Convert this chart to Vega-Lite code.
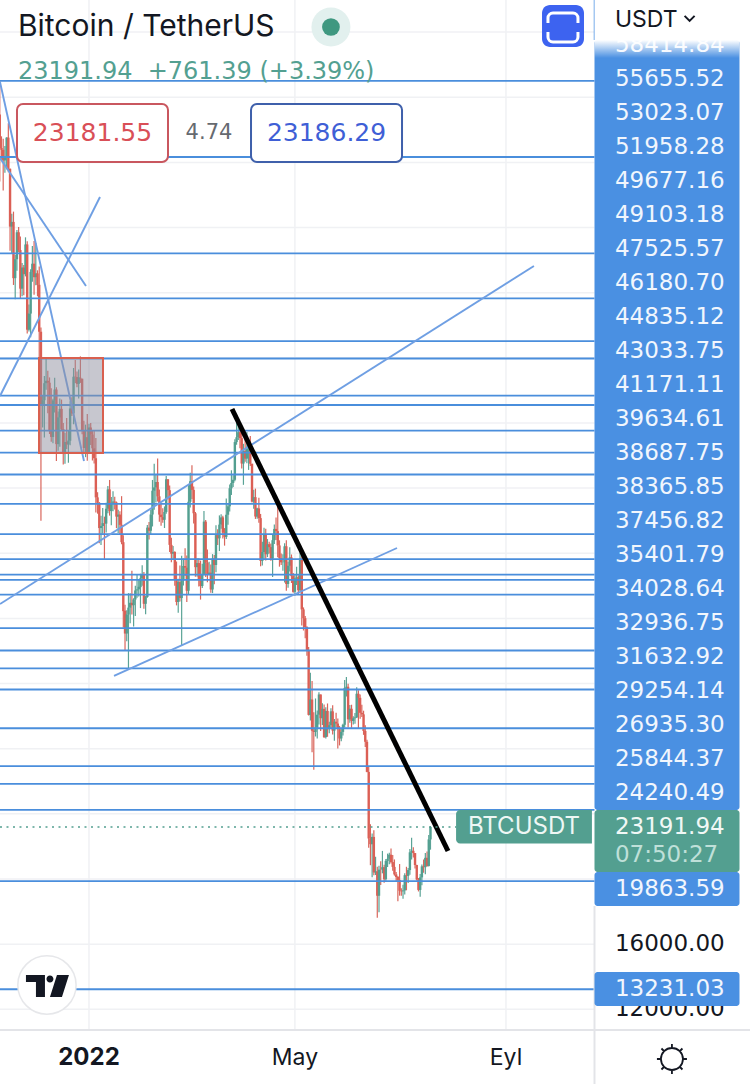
{
"$schema":"https://vega.github.io/schema/vega-lite/v6.json",
"width":750,"height":1084,"padding":0,"autosize":"none","background":"#ffffff",
"config":{"axis":{"disable":true},"legend":{"disable":true},"view":{"stroke":null},"text":{"font":"Inter"}},
"datasets":{
"candles":[
{"date":"2021-11-10","open":66947,"high":69000,"low":62822,"close":64882},{"date":"2021-11-11","open":64882,"high":65600,"low":64100,"close":64774},{"date":"2021-11-12","open":64774,"high":65450,"low":62278,"close":64122},{"date":"2021-11-13","open":64122,"high":65000,"low":63360,"close":64380},{"date":"2021-11-14","open":64380,"high":65550,"low":63576,"close":65519},{"date":"2021-11-15","open":65520,"high":66401,"low":63400,"close":63606},{"date":"2021-11-16","open":63606,"high":63620,"low":58574,"close":60058},{"date":"2021-11-17","open":60058,"high":60840,"low":58373,"close":60344},{"date":"2021-11-18","open":60344,"high":60976,"low":56474,"close":56891},{"date":"2021-11-19","open":56891,"high":58320,"low":55600,"close":58052},{"date":"2021-11-20","open":58052,"high":59845,"low":57353,"close":59707},{"date":"2021-11-21","open":59707,"high":60029,"low":58486,"close":58622},{"date":"2021-11-22","open":58617,"high":59444,"low":55610,"close":56247},{"date":"2021-11-23","open":56247,"high":57827,"low":55778,"close":57541},{"date":"2021-11-24","open":57541,"high":57700,"low":55837,"close":57138},{"date":"2021-11-25","open":57138,"high":59398,"low":57000,"close":58960},{"date":"2021-11-26","open":58960,"high":59150,"low":53500,"close":53726},{"date":"2021-11-27","open":53723,"high":55280,"low":53610,"close":54721},{"date":"2021-11-28","open":54716,"high":57445,"low":53256,"close":57274},{"date":"2021-11-29","open":57274,"high":58865,"low":56666,"close":57776},{"date":"2021-11-30","open":57777,"high":59176,"low":55875,"close":56950},
{"date":"2021-12-01","open":56951,"high":59053,"low":56458,"close":57184},{"date":"2021-12-02","open":57185,"high":57374,"low":55777,"close":56480},{"date":"2021-12-03","open":56485,"high":57600,"low":51680,"close":53601},{"date":"2021-12-04","open":53602,"high":53859,"low":42000,"close":49152},{"date":"2021-12-05","open":49153,"high":49700,"low":47727,"close":49397},{"date":"2021-12-06","open":49397,"high":50891,"low":47100,"close":50441},{"date":"2021-12-07","open":50441,"high":51936,"low":50039,"close":50589},{"date":"2021-12-08","open":50589,"high":51200,"low":48600,"close":50471},{"date":"2021-12-09","open":50471,"high":50797,"low":47320,"close":47545},{"date":"2021-12-10","open":47535,"high":50125,"low":46852,"close":47140},{"date":"2021-12-11","open":47140,"high":49485,"low":46751,"close":49389},{"date":"2021-12-12","open":49389,"high":50777,"low":48638,"close":50053},{"date":"2021-12-13","open":50053,"high":50189,"low":45672,"close":46702},{"date":"2021-12-14","open":46702,"high":48700,"low":46290,"close":48343},{"date":"2021-12-15","open":48336,"high":49500,"low":46547,"close":48864},{"date":"2021-12-16","open":48864,"high":49436,"low":47511,"close":47632},{"date":"2021-12-17","open":47632,"high":48004,"low":45456,"close":46131},{"date":"2021-12-18","open":46133,"high":47392,"low":45500,"close":46834},{"date":"2021-12-19","open":46834,"high":48300,"low":46406,"close":46681},{"date":"2021-12-20","open":46682,"high":47537,"low":45558,"close":46914},{"date":"2021-12-21","open":46908,"high":49328,"low":46630,"close":48889},{"date":"2021-12-22","open":48887,"high":49576,"low":48421,"close":48588},{"date":"2021-12-23","open":48588,"high":51375,"low":47920,"close":50838},{"date":"2021-12-24","open":50839,"high":51864,"low":50456,"close":50821},{"date":"2021-12-25","open":50820,"high":51156,"low":50200,"close":50400},{"date":"2021-12-26","open":50400,"high":51280,"low":49500,"close":50801},{"date":"2021-12-27","open":50775,"high":52088,"low":50459,"close":50717},{"date":"2021-12-28","open":50718,"high":50718,"low":47313,"close":47543},{"date":"2021-12-29","open":47543,"high":48139,"low":46096,"close":46464},{"date":"2021-12-30","open":46464,"high":47900,"low":45900,"close":47120},{"date":"2021-12-31","open":47120,"high":48548,"low":45678,"close":46216},
{"date":"2022-01-01","open":46217,"high":47954,"low":46208,"close":47722},{"date":"2022-01-02","open":47722,"high":47990,"low":46654,"close":47287},{"date":"2022-01-03","open":47287,"high":47570,"low":45696,"close":46446},{"date":"2022-01-04","open":46446,"high":47505,"low":45516,"close":45833},{"date":"2022-01-05","open":45833,"high":47070,"low":42500,"close":43431},{"date":"2022-01-06","open":43431,"high":43748,"low":42430,"close":43097},{"date":"2022-01-07","open":43097,"high":43145,"low":40610,"close":41547},{"date":"2022-01-08","open":41547,"high":42300,"low":40501,"close":41672},{"date":"2022-01-09","open":41672,"high":42786,"low":41200,"close":41846},{"date":"2022-01-10","open":41846,"high":42248,"low":39650,"close":41822},{"date":"2022-01-11","open":41820,"high":43100,"low":41268,"close":42735},{"date":"2022-01-12","open":42736,"high":44135,"low":42450,"close":43920},{"date":"2022-01-13","open":43920,"high":44500,"low":42311,"close":42591},{"date":"2022-01-14","open":42591,"high":43448,"low":41725,"close":43099},{"date":"2022-01-15","open":43099,"high":43800,"low":42577,"close":43177},{"date":"2022-01-16","open":43172,"high":43475,"low":42691,"close":43113},{"date":"2022-01-17","open":43118,"high":43176,"low":41540,"close":42250},{"date":"2022-01-18","open":42250,"high":42665,"low":41250,"close":42375},{"date":"2022-01-19","open":42375,"high":42577,"low":41138,"close":41744},{"date":"2022-01-20","open":41744,"high":43505,"low":40553,"close":40680},{"date":"2022-01-21","open":40680,"high":41100,"low":35440,"close":36445},{"date":"2022-01-22","open":36471,"high":36835,"low":34008,"close":35071},{"date":"2022-01-23","open":35071,"high":36499,"low":34601,"close":36244},{"date":"2022-01-24","open":36244,"high":37550,"low":32917,"close":36660},{"date":"2022-01-25","open":36660,"high":37545,"low":35701,"close":36958},{"date":"2022-01-26","open":36958,"high":38919,"low":36234,"close":36809},{"date":"2022-01-27","open":36810,"high":37234,"low":35507,"close":37160},{"date":"2022-01-28","open":37160,"high":38000,"low":36155,"close":37716},{"date":"2022-01-29","open":37716,"high":38720,"low":37268,"close":37783},{"date":"2022-01-30","open":37783,"high":38360,"low":37351,"close":37941},{"date":"2022-01-31","open":37920,"high":38744,"low":36632,"close":38466},
{"date":"2022-02-01","open":38466,"high":39265,"low":38000,"close":38690},{"date":"2022-02-02","open":38690,"high":38855,"low":36586,"close":36896},{"date":"2022-02-03","open":36896,"high":37387,"low":36250,"close":37311},{"date":"2022-02-04","open":37311,"high":41732,"low":37268,"close":41574},{"date":"2022-02-05","open":41571,"high":41913,"low":40843,"close":41382},{"date":"2022-02-06","open":41382,"high":42656,"low":41116,"close":42380},{"date":"2022-02-07","open":42380,"high":44500,"low":41645,"close":43839},{"date":"2022-02-08","open":43839,"high":45492,"low":42666,"close":44042},{"date":"2022-02-09","open":44043,"high":44799,"low":43117,"close":44372},{"date":"2022-02-10","open":44373,"high":45821,"low":43174,"close":43495},{"date":"2022-02-11","open":43495,"high":43920,"low":41938,"close":42373},{"date":"2022-02-12","open":42373,"high":43079,"low":41688,"close":42217},{"date":"2022-02-13","open":42217,"high":42760,"low":41870,"close":42053},{"date":"2022-02-14","open":42054,"high":42876,"low":41550,"close":42535},{"date":"2022-02-15","open":42535,"high":44751,"low":42427,"close":44544},{"date":"2022-02-16","open":44544,"high":44549,"low":43307,"close":43873},{"date":"2022-02-17","open":43873,"high":44164,"low":40073,"close":40515},{"date":"2022-02-18","open":40515,"high":40959,"low":39450,"close":39974},{"date":"2022-02-19","open":39974,"high":40444,"low":39639,"close":40079},{"date":"2022-02-20","open":40079,"high":40125,"low":38000,"close":38386},{"date":"2022-02-21","open":38386,"high":39494,"low":36800,"close":37008},{"date":"2022-02-22","open":37008,"high":38429,"low":36350,"close":38230},{"date":"2022-02-23","open":38230,"high":39249,"low":37036,"close":37250},{"date":"2022-02-24","open":37250,"high":39843,"low":34322,"close":38327},{"date":"2022-02-25","open":38328,"high":39683,"low":38014,"close":39219},{"date":"2022-02-26","open":39219,"high":40300,"low":38600,"close":39116},{"date":"2022-02-27","open":39116,"high":39855,"low":37000,"close":37699},{"date":"2022-02-28","open":37699,"high":44225,"low":37450,"close":43160},
{"date":"2022-03-01","open":43160,"high":44949,"low":42809,"close":44421},{"date":"2022-03-02","open":44421,"high":45400,"low":43334,"close":43892},{"date":"2022-03-03","open":43892,"high":44101,"low":41832,"close":42454},{"date":"2022-03-04","open":42454,"high":42527,"low":38550,"close":39148},{"date":"2022-03-05","open":39148,"high":39700,"low":38560,"close":39398},{"date":"2022-03-06","open":39398,"high":39693,"low":37957,"close":38420},{"date":"2022-03-07","open":38420,"high":39547,"low":37155,"close":37988},{"date":"2022-03-08","open":37988,"high":39362,"low":37867,"close":38730},{"date":"2022-03-09","open":38730,"high":42594,"low":38656,"close":41941},{"date":"2022-03-10","open":41941,"high":42039,"low":38539,"close":39422},{"date":"2022-03-11","open":39422,"high":40236,"low":38223,"close":38729},{"date":"2022-03-12","open":38729,"high":39486,"low":38660,"close":38807},{"date":"2022-03-13","open":38807,"high":39310,"low":37578,"close":37777},{"date":"2022-03-14","open":37777,"high":39947,"low":37555,"close":39671},{"date":"2022-03-15","open":39671,"high":39887,"low":38098,"close":39280},{"date":"2022-03-16","open":39280,"high":41718,"low":38828,"close":41114},{"date":"2022-03-17","open":41114,"high":41478,"low":40500,"close":40917},{"date":"2022-03-18","open":40917,"high":42325,"low":40135,"close":41757},{"date":"2022-03-19","open":41757,"high":42400,"low":41499,"close":42201},{"date":"2022-03-20","open":42201,"high":42296,"low":40911,"close":41262},{"date":"2022-03-21","open":41262,"high":41544,"low":40467,"close":41002},{"date":"2022-03-22","open":41002,"high":43361,"low":40875,"close":42364},{"date":"2022-03-23","open":42364,"high":43025,"low":41751,"close":42882},{"date":"2022-03-24","open":42882,"high":44220,"low":42560,"close":43991},{"date":"2022-03-25","open":43991,"high":45094,"low":43579,"close":44313},{"date":"2022-03-26","open":44313,"high":44792,"low":44071,"close":44511},{"date":"2022-03-27","open":44511,"high":46999,"low":44421,"close":46827},{"date":"2022-03-28","open":46827,"high":48189,"low":46663,"close":47122},{"date":"2022-03-29","open":47122,"high":48096,"low":46950,"close":47434},{"date":"2022-03-30","open":47434,"high":47700,"low":46445,"close":47067},{"date":"2022-03-31","open":47067,"high":47600,"low":45200,"close":45511},
{"date":"2022-04-01","open":45510,"high":46720,"low":44200,"close":46283},{"date":"2022-04-02","open":46283,"high":47213,"low":45620,"close":45811},{"date":"2022-04-03","open":45811,"high":47444,"low":45530,"close":46407},{"date":"2022-04-04","open":46407,"high":46890,"low":45118,"close":46580},{"date":"2022-04-05","open":46581,"high":47200,"low":45353,"close":45497},{"date":"2022-04-06","open":45497,"high":45497,"low":43121,"close":43170},{"date":"2022-04-07","open":43170,"high":43900,"low":42727,"close":43444},{"date":"2022-04-08","open":43444,"high":43970,"low":42107,"close":42252},{"date":"2022-04-09","open":42252,"high":42800,"low":42125,"close":42753},{"date":"2022-04-10","open":42753,"high":43410,"low":41868,"close":42158},{"date":"2022-04-11","open":42158,"high":42414,"low":39200,"close":39530},{"date":"2022-04-12","open":39530,"high":40699,"low":39254,"close":40074},{"date":"2022-04-13","open":40074,"high":41561,"low":39588,"close":41147},{"date":"2022-04-14","open":41147,"high":41500,"low":39551,"close":39942},{"date":"2022-04-15","open":39942,"high":40870,"low":39766,"close":40552},{"date":"2022-04-16","open":40552,"high":40709,"low":39991,"close":40378},{"date":"2022-04-17","open":40378,"high":40595,"low":39546,"close":39678},{"date":"2022-04-18","open":39678,"high":41116,"low":38536,"close":40801},{"date":"2022-04-19","open":40801,"high":41760,"low":40571,"close":41493},{"date":"2022-04-20","open":41494,"high":42199,"low":40820,"close":41358},{"date":"2022-04-21","open":41358,"high":42976,"low":39751,"close":40480},{"date":"2022-04-22","open":40480,"high":40795,"low":39177,"close":39709},{"date":"2022-04-23","open":39709,"high":39980,"low":39285,"close":39441},{"date":"2022-04-24","open":39441,"high":39940,"low":38929,"close":39450},{"date":"2022-04-25","open":39450,"high":40616,"low":38200,"close":40426},{"date":"2022-04-26","open":40427,"high":40797,"low":37702,"close":38112},{"date":"2022-04-27","open":38112,"high":39474,"low":37881,"close":39235},{"date":"2022-04-28","open":39235,"high":40372,"low":38881,"close":39742},{"date":"2022-04-29","open":39742,"high":39925,"low":38175,"close":38596},{"date":"2022-04-30","open":38596,"high":38795,"low":37578,"close":37630},
{"date":"2022-05-01","open":37630,"high":38675,"low":37386,"close":38468},{"date":"2022-05-02","open":38469,"high":39167,"low":38052,"close":38525},{"date":"2022-05-03","open":38525,"high":38651,"low":37500,"close":37728},{"date":"2022-05-04","open":37728,"high":40023,"low":37670,"close":39690},{"date":"2022-05-05","open":39690,"high":39845,"low":35571,"close":36552},{"date":"2022-05-06","open":36552,"high":36675,"low":35258,"close":36014},{"date":"2022-05-07","open":36013,"high":36146,"low":34785,"close":35472},{"date":"2022-05-08","open":35472,"high":35514,"low":33713,"close":34039},{"date":"2022-05-09","open":34038,"high":34243,"low":30033,"close":30076},{"date":"2022-05-10","open":30074,"high":32658,"low":29730,"close":31017},{"date":"2022-05-11","open":31017,"high":32162,"low":27785,"close":29103},{"date":"2022-05-12","open":29103,"high":30243,"low":26700,"close":29029},{"date":"2022-05-13","open":29029,"high":31083,"low":28751,"close":29287},{"date":"2022-05-14","open":29287,"high":30343,"low":28630,"close":30086},{"date":"2022-05-15","open":30086,"high":31460,"low":29480,"close":31328},{"date":"2022-05-16","open":31328,"high":31328,"low":29087,"close":29874},{"date":"2022-05-17","open":29874,"high":30788,"low":29450,"close":30444},{"date":"2022-05-18","open":30444,"high":30709,"low":28654,"close":28715},{"date":"2022-05-19","open":28715,"high":30545,"low":28630,"close":30319},{"date":"2022-05-20","open":30319,"high":30777,"low":28730,"close":29201},{"date":"2022-05-21","open":29201,"high":29656,"low":28947,"close":29445},{"date":"2022-05-22","open":29445,"high":30487,"low":29255,"close":30293},{"date":"2022-05-23","open":30293,"high":30670,"low":28866,"close":29109},{"date":"2022-05-24","open":29109,"high":29825,"low":28492,"close":29655},{"date":"2022-05-25","open":29655,"high":30200,"low":29311,"close":29542},{"date":"2022-05-26","open":29542,"high":29856,"low":28019,"close":29201},{"date":"2022-05-27","open":29201,"high":29400,"low":28200,"close":28629},{"date":"2022-05-28","open":28629,"high":29250,"low":28450,"close":29031},{"date":"2022-05-29","open":29031,"high":29530,"low":28810,"close":29468},{"date":"2022-05-30","open":29468,"high":32222,"low":29299,"close":31734},{"date":"2022-05-31","open":31734,"high":32399,"low":31200,"close":31801},
{"date":"2022-06-01","open":31801,"high":31982,"low":29300,"close":29805},{"date":"2022-06-02","open":29805,"high":30689,"low":29594,"close":30452},{"date":"2022-06-03","open":30452,"high":30699,"low":29282,"close":29700},{"date":"2022-06-04","open":29700,"high":29988,"low":29485,"close":29864},{"date":"2022-06-05","open":29864,"high":30189,"low":29531,"close":29920},{"date":"2022-06-06","open":29920,"high":31765,"low":29890,"close":31373},{"date":"2022-06-07","open":31373,"high":31589,"low":29218,"close":31125},{"date":"2022-06-08","open":31125,"high":31327,"low":29843,"close":30204},{"date":"2022-06-09","open":30204,"high":30700,"low":29944,"close":30109},{"date":"2022-06-10","open":30109,"high":30333,"low":28850,"close":29091},{"date":"2022-06-11","open":29091,"high":29440,"low":28099,"close":28424},{"date":"2022-06-12","open":28424,"high":28544,"low":26560,"close":26574},{"date":"2022-06-13","open":26574,"high":26895,"low":21925,"close":22487},{"date":"2022-06-14","open":22485,"high":23362,"low":20846,"close":22136},{"date":"2022-06-15","open":22136,"high":22800,"low":20111,"close":22583},{"date":"2022-06-16","open":22583,"high":22995,"low":20232,"close":20401},{"date":"2022-06-17","open":20400,"high":21365,"low":20246,"close":20468},{"date":"2022-06-18","open":20468,"high":20750,"low":17622,"close":18970},{"date":"2022-06-19","open":18970,"high":20815,"low":17960,"close":20574},{"date":"2022-06-20","open":20574,"high":21090,"low":19637,"close":20573},{"date":"2022-06-21","open":20573,"high":21723,"low":20348,"close":20723},{"date":"2022-06-22","open":20723,"high":20871,"low":19770,"close":19987},{"date":"2022-06-23","open":19987,"high":21233,"low":19890,"close":21110},{"date":"2022-06-24","open":21110,"high":21558,"low":20736,"close":21237},{"date":"2022-06-25","open":21237,"high":21614,"low":20906,"close":21491},{"date":"2022-06-26","open":21491,"high":21868,"low":20950,"close":21038},{"date":"2022-06-27","open":21038,"high":21478,"low":20510,"close":20742},{"date":"2022-06-28","open":20742,"high":21200,"low":20204,"close":20281},{"date":"2022-06-29","open":20281,"high":20432,"low":19847,"close":20123},{"date":"2022-06-30","open":20123,"high":20179,"low":18626,"close":19942},
{"date":"2022-07-01","open":19942,"high":20918,"low":18975,"close":19279},{"date":"2022-07-02","open":19279,"high":19437,"low":18975,"close":19243},{"date":"2022-07-03","open":19243,"high":19653,"low":18781,"close":19297},{"date":"2022-07-04","open":19297,"high":20354,"low":19055,"close":20231},{"date":"2022-07-05","open":20231,"high":20750,"low":19304,"close":20190},{"date":"2022-07-06","open":20190,"high":20675,"low":19761,"close":20548},{"date":"2022-07-07","open":20548,"high":21838,"low":20255,"close":21637},{"date":"2022-07-08","open":21637,"high":22527,"low":21189,"close":21731},{"date":"2022-07-09","open":21731,"high":21955,"low":21319,"close":21592},{"date":"2022-07-10","open":21592,"high":21597,"low":20650,"close":20860},{"date":"2022-07-11","open":20860,"high":20868,"low":19900,"close":19970},{"date":"2022-07-12","open":19970,"high":20059,"low":19235,"close":19329},{"date":"2022-07-13","open":19329,"high":20310,"low":18910,"close":20097},{"date":"2022-07-14","open":20097,"high":20883,"low":19616,"close":20775},{"date":"2022-07-15","open":20775,"high":21200,"low":20382,"close":20724},{"date":"2022-07-16","open":20724,"high":21600,"low":20296,"close":21300},{"date":"2022-07-17","open":21300,"high":21689,"low":20755,"close":20800},{"date":"2022-07-18","open":20800,"high":22700,"low":20760,"close":22430},{"date":"2022-07-19","open":22430,"high":23250,"low":21800,"close":23192}
],
"levels":[{"price":69000},{"price":64330},{"price":58414.84},{"price":55655.52},{"price":53023.07},{"price":51958.28},{"price":49677.16},{"price":49103.18},{"price":47525.57},{"price":46180.70},{"price":44835.12},{"price":43033.75},{"price":41171.11},{"price":39634.61},{"price":38687.75},{"price":38365.85},{"price":37456.82},{"price":35401.79},{"price":34028.64},{"price":32936.75},{"price":31632.92},{"price":29254.14},{"price":26935.30},{"price":25844.37},{"price":24240.49},{"price":19863.59},{"price":13231.03}],
"tags":[{"label":"58414.84","at":71207},{"label":"55655.52","at":69119},{"label":"53023.07","at":67032},{"label":"51958.28","at":64944},{"label":"49677.16","at":62857},{"label":"49103.18","at":60769},{"label":"47525.57","at":58681},{"label":"46180.70","at":56594},{"label":"44835.12","at":54506},{"label":"43033.75","at":52419},{"label":"41171.11","at":50331},{"label":"39634.61","at":48243},{"label":"38687.75","at":46156},{"label":"38365.85","at":44068},{"label":"37456.82","at":41981},{"label":"35401.79","at":39893},{"label":"34028.64","at":37805},{"label":"32936.75","at":35718},{"label":"31632.92","at":33630},{"label":"29254.14","at":31543},{"label":"26935.30","at":29455},{"label":"25844.37","at":27367},{"label":"24240.49","at":25280},{"label":"19863.59","at":19385},{"label":"13231.03","at":13231}],
"trend":[
{"id":"a","date":"2021-11-10T03:20:00Z","price":68935},{"id":"a","date":"2021-12-29T02:00:00Z","price":45665},
{"id":"b","date":"2021-11-10T03:20:00Z","price":64269},{"id":"b","date":"2021-12-30T06:00:00Z","price":56410},
{"id":"c","date":"2021-11-10T03:20:00Z","price":49656},{"id":"c","date":"2022-01-07T10:00:00Z","price":61874},
{"id":"d","date":"2021-11-10T03:20:00Z","price":36884},{"id":"d","date":"2022-09-17T07:00:00Z","price":57638},
{"id":"e","date":"2022-01-15T14:00:00Z","price":32464},{"id":"e","date":"2022-06-29T12:00:00Z","price":40323}]
},
"layer":[
{"data":{"values":[{"price":12000},{"price":16000},{"price":20000},{"price":24000},{"price":28000},{"price":32000},{"price":36000},{"price":40000},{"price":44000},{"price":48000},{"price":52000},{"price":56000},{"price":60000},{"price":64000},{"price":68000},{"price":72000}]},
 "mark":{"type":"rule","color":"#f0f1f4","strokeWidth":1.5},
 "encoding":{"y":{"field":"price","type":"quantitative","scale":{"domain":[7412,73970],"zero":false,"nice":false}}}},
{"data":{"values":[{"date":"2022-01-01"},{"date":"2022-05-01"},{"date":"2022-09-01"}]},
 "mark":{"type":"rule","color":"#f0f1f4","strokeWidth":1.5},
 "encoding":{"x":{"field":"date","type":"temporal","scale":{"type":"utc","domain":[1636514496000,1674276480000],"nice":false}}}},
{"data":{"name":"candles"},"mark":{"type":"rule","strokeWidth":1.2},
 "encoding":{"x":{"field":"date","type":"temporal"},"y":{"field":"low","type":"quantitative"},"y2":{"field":"high"},
 "color":{"condition":{"test":"datum.close>=datum.open","value":"#5aa396"},"value":"#d9665c"}}},
{"data":{"name":"candles"},"mark":{"type":"rule","strokeWidth":2.4},
 "encoding":{"x":{"field":"date","type":"temporal"},"y":{"field":"open","type":"quantitative"},"y2":{"field":"close"},
 "color":{"condition":{"test":"datum.close>=datum.open","value":"#539f90"},"value":"#db5f55"}}},
{"data":{"name":"levels"},"mark":{"type":"rule","color":"#4a8edc","strokeWidth":1.8},
 "encoding":{"y":{"field":"price","type":"quantitative"}}},
{"data":{"name":"trend"},"mark":{"type":"line","color":"#6f9fe3","strokeWidth":1.9},
 "encoding":{"x":{"field":"date","type":"temporal"},"y":{"field":"price","type":"quantitative"},"detail":{"field":"id"}}},
{"data":{"values":[{"start":"2021-12-02T21:00:00Z","end":"2022-01-09T04:00:00Z","top":51989,"bottom":46156}]},
 "mark":{"type":"rect","fill":"#8f8f9f","fillOpacity":0.5,"stroke":"#d9604f","strokeWidth":2},
 "encoding":{"x":{"field":"start","type":"temporal"},"x2":{"field":"end"},"y":{"field":"top","type":"quantitative"},"y2":{"field":"bottom"}}},
{"data":{"values":[{"date":"2022-03-25T08:00:00Z","price":48857},{"date":"2022-07-29T05:00:00Z","price":21718}]},
 "mark":{"type":"line","color":"#000000","strokeWidth":5},
 "encoding":{"x":{"field":"date","type":"temporal"},"y":{"field":"price","type":"quantitative"}}},
{"data":{"values":[{"start":"2021-11-10T03:20:00Z","end":"2022-08-02T22:00:00Z","price":23191.94}]},
 "mark":{"type":"rule","color":"#539f90","strokeWidth":1.6,"strokeDash":[2,4.5]},
 "encoding":{"x":{"field":"start","type":"temporal"},"x2":{"field":"end"},"y":{"field":"price","type":"quantitative"}}},
{"data":{"values":[{"start":"2022-10-22T14:00:00Z","end":"2023-01-21T05:00:00Z","top":73970,"bottom":7412},{"start":"2021-11-10T03:20:00Z","end":"2023-01-21T05:00:00Z","top":10728,"bottom":7412}]},
 "mark":{"type":"rect","fill":"#ffffff"},
 "encoding":{"x":{"field":"start","type":"temporal"},"x2":{"field":"end"},"y":{"field":"top","type":"quantitative"},"y2":{"field":"bottom"}}},
{"data":{"values":[{"date":"2022-10-22T14:00:00Z","top":10728,"bottom":7412},{"date":"2022-10-22T14:00:00Z","top":18341,"bottom":10728}]},
 "mark":{"type":"rule","color":"#e3e4e8","strokeWidth":2},
 "encoding":{"x":{"field":"date","type":"temporal"},"y":{"field":"top","type":"quantitative"},"y2":{"field":"bottom"}}},
{"data":{"values":[{"date":"2022-10-22T14:00:00Z","top":73970,"bottom":71514}]},
 "mark":{"type":"rule","color":"#4a90e2","strokeWidth":1.5},
 "encoding":{"x":{"field":"date","type":"temporal"},"y":{"field":"top","type":"quantitative"},"y2":{"field":"bottom"}}},
{"data":{"values":[{"price":10728}]},
 "mark":{"type":"rule","color":"#e3e4e8","strokeWidth":2},
 "encoding":{"y":{"field":"price","type":"quantitative"}}},
{"data":{"values":[{"label":"16000.00","price":16000},{"label":"12000.00","price":12000}]},
 "mark":{"type":"text","align":"left","baseline":"middle","fontSize":23,"font":"DejaVu Sans","color":"#131722"},
 "encoding":{"x":{"datum":{"year":2022,"month":11,"date":3,"hours":12,"utc":true},"type":"temporal"},"y":{"field":"price","type":"quantitative"},"text":{"field":"label"}}},
{"data":{"values":[{"start":"2022-10-22T14:00:00Z","end":"2023-01-15T02:00:00Z","top":71514,"bottom":24236},{"start":"2022-10-22T14:00:00Z","end":"2023-01-15T02:00:00Z","top":20429,"bottom":18341},{"start":"2022-10-22T14:00:00Z","end":"2023-01-15T02:00:00Z","top":14289,"bottom":12202}]},
 "mark":{"type":"rect","fill":"#4a90e2","cornerRadius":3},
 "encoding":{"x":{"field":"start","type":"temporal"},"x2":{"field":"end"},"y":{"field":"top","type":"quantitative"},"y2":{"field":"bottom"}}},
{"data":{"values":[{"start":"2022-10-22T14:00:00Z","end":"2023-01-15T02:00:00Z","top":24236,"bottom":20429}]},
 "mark":{"type":"rect","fill":"#539f90","cornerRadius":3},
 "encoding":{"x":{"field":"start","type":"temporal"},"x2":{"field":"end"},"y":{"field":"top","type":"quantitative"},"y2":{"field":"bottom"}}},
{"data":{"name":"tags"},
 "mark":{"type":"text","align":"left","baseline":"middle","fontSize":23,"font":"DejaVu Sans","color":"#f1f6fd"},
 "encoding":{"x":{"datum":{"year":2022,"month":11,"date":3,"hours":12,"utc":true},"type":"temporal"},"y":{"field":"at","type":"quantitative"},"text":{"field":"label"}}},
{"data":{"values":[{"label":"23191.94","at":23192}]},
 "mark":{"type":"text","align":"left","baseline":"middle","fontSize":23,"font":"DejaVu Sans","color":"#f1f8f6"},
 "encoding":{"x":{"datum":{"year":2022,"month":11,"date":3,"hours":12,"utc":true},"type":"temporal"},"y":{"field":"at","type":"quantitative"},"text":{"field":"label"}}},
{"data":{"values":[{"label":"07:50:27","at":21473}]},
 "mark":{"type":"text","align":"left","baseline":"middle","fontSize":23,"font":"DejaVu Sans","color":"#bfe0d9"},
 "encoding":{"x":{"datum":{"year":2022,"month":11,"date":3,"hours":12,"utc":true},"type":"temporal"},"y":{"field":"at","type":"quantitative"},"text":{"field":"label"}}},
{"data":{"values":[{"start":"2022-10-22T14:00:00Z","end":"2023-01-21T05:00:00Z","top":73970,"bottom":71514}]},
 "mark":{"type":"rect","fill":"#ffffff"},
 "encoding":{"x":{"field":"start","type":"temporal"},"x2":{"field":"end"},"y":{"field":"top","type":"quantitative"},"y2":{"field":"bottom"}}},
{"data":{"values":[{"start":"2022-10-22T14:00:00Z","end":"2023-01-15T02:00:00Z","top":71514,"bottom":70409}]},
 "mark":{"type":"rect","fill":{"gradient":"linear","x1":0,"y1":0,"x2":0,"y2":1,"stops":[{"offset":0,"color":"#ffffff"},{"offset":1,"color":"rgba(255,255,255,0)"}]}},
 "encoding":{"x":{"field":"start","type":"temporal"},"x2":{"field":"end"},"y":{"field":"top","type":"quantitative"},"y2":{"field":"bottom"}}},
{"data":{"values":[{"label":"USDT","at":72742}]},
 "mark":{"type":"text","align":"left","baseline":"middle","fontSize":23,"color":"#131722"},
 "encoding":{"x":{"datum":{"year":2022,"month":11,"date":3,"hours":12,"utc":true},"type":"temporal"},"y":{"field":"at","type":"quantitative"},"text":{"field":"label"}}},
{"data":{"values":[{"date":"2022-12-17T00:00:00Z","at":72840}]},
 "mark":{"type":"point","size":4,"filled":false,"stroke":"#131722","strokeWidth":2,"opacity":1,"shape":"M-5,-2.5 L0,2.5 L5,-2.5"},
 "encoding":{"x":{"field":"date","type":"temporal"},"y":{"field":"at","type":"quantitative"}}},
{"data":{"values":[{"label":"Bitcoin / TetherUS","at":72312}]},
 "mark":{"type":"text","align":"left","baseline":"middle","fontSize":30,"color":"#131722"},
 "encoding":{"x":{"datum":{"year":2021,"month":11,"date":20,"hours":14,"utc":true},"type":"temporal"},"y":{"field":"at","type":"quantitative"},"text":{"field":"label"}}},
{"data":{"values":[{"label":"23191.94\u00a0\u00a0+761.39 (+3.39%)","at":69549}]},
 "mark":{"type":"text","align":"left","baseline":"middle","fontSize":24,"font":"DejaVu Sans","color":"#53a091"},
 "encoding":{"x":{"datum":{"year":2021,"month":11,"date":20,"hours":14,"utc":true},"type":"temporal"},"y":{"field":"at","type":"quantitative"},"text":{"field":"label"}}},
{"data":{"values":[{"date":"2022-05-22","at":72312}]},
 "mark":{"type":"point","size":1520,"shape":"circle","filled":true,"fill":"#e2f0ee","opacity":1},
 "encoding":{"x":{"field":"date","type":"temporal"},"y":{"field":"at","type":"quantitative"}}},
{"data":{"values":[{"date":"2022-05-22","at":72312}]},
 "mark":{"type":"point","size":314,"shape":"circle","filled":true,"fill":"#3f9880","opacity":1},
 "encoding":{"x":{"field":"date","type":"temporal"},"y":{"field":"at","type":"quantitative"}}},
{"data":{"values":[{"start":"2021-11-20T01:00:00Z","end":"2022-02-16T01:00:00Z","top":67584,"bottom":64023}]},
 "mark":{"type":"rect","fill":"#ffffff","stroke":"#c9575f","strokeWidth":2,"cornerRadius":6},
 "encoding":{"x":{"field":"start","type":"temporal"},"x2":{"field":"end"},"y":{"field":"top","type":"quantitative"},"y2":{"field":"bottom"}}},
{"data":{"values":[{"start":"2022-04-05T10:00:00Z","end":"2022-07-02T10:00:00Z","top":67584,"bottom":64023}]},
 "mark":{"type":"rect","fill":"#ffffff","stroke":"#3f60ab","strokeWidth":2,"cornerRadius":6},
 "encoding":{"x":{"field":"start","type":"temporal"},"x2":{"field":"end"},"y":{"field":"top","type":"quantitative"},"y2":{"field":"bottom"}}},
{"data":{"values":[{"label":"23181.55","date":"2022-01-03T01:00:00Z","at":65804}]},
 "mark":{"type":"text","align":"center","baseline":"middle","fontSize":25,"font":"DejaVu Sans","color":"#d94f57"},
 "encoding":{"x":{"field":"date","type":"temporal"},"y":{"field":"at","type":"quantitative"},"text":{"field":"label"}}},
{"data":{"values":[{"label":"4.74","date":"2022-03-11T22:00:00Z","at":65804}]},
 "mark":{"type":"text","align":"center","baseline":"middle","fontSize":21,"font":"DejaVu Sans","color":"#666a70"},
 "encoding":{"x":{"field":"date","type":"temporal"},"y":{"field":"at","type":"quantitative"},"text":{"field":"label"}}},
{"data":{"values":[{"label":"23186.29","date":"2022-05-19T10:00:00Z","at":65804}]},
 "mark":{"type":"text","align":"center","baseline":"middle","fontSize":25,"font":"DejaVu Sans","color":"#3f5fd6"},
 "encoding":{"x":{"field":"date","type":"temporal"},"y":{"field":"at","type":"quantitative"},"text":{"field":"label"}}},
{"data":{"values":[{"start":"2022-09-22T00:00:00Z","end":"2022-10-16T11:00:00Z","top":73663,"bottom":71084}]},
 "mark":{"type":"rect","fill":"#3d63f0","cornerRadius":8},
 "encoding":{"x":{"field":"start","type":"temporal"},"x2":{"field":"end"},"y":{"field":"top","type":"quantitative"},"y2":{"field":"bottom"}}},
{"data":{"values":[{"date":"2022-10-04T05:00:00Z","at":72312}]},
 "mark":{"type":"point","size":4,"filled":false,"stroke":"#ffffff","strokeWidth":3,"opacity":1,"shape":"M-15,-4 L-15,-9 A5,5 0 0 1 -10,-14 L10,-14 A5,5 0 0 1 15,-9 L15,-4 M-15,5 L-15,10 A5,5 0 0 0 -10,15 L10,15 A5,5 0 0 0 15,10 L15,5"},
 "encoding":{"x":{"field":"date","type":"temporal"},"y":{"field":"at","type":"quantitative"}}},
{"data":{"values":[{"start":"2022-08-02T22:00:00Z","end":"2022-10-21T02:00:00Z","top":24236,"bottom":22179}]},
 "mark":{"type":"rect","fill":"#539f90","cornerRadiusTopLeft":4,"cornerRadiusBottomLeft":4},
 "encoding":{"x":{"field":"start","type":"temporal"},"x2":{"field":"end"},"y":{"field":"top","type":"quantitative"},"y2":{"field":"bottom"}}},
{"data":{"values":[{"label":"BTCUSDT","date":"2022-09-11T12:00:00Z","at":23192}]},
 "mark":{"type":"text","align":"center","baseline":"middle","fontSize":24,"color":"#eef7f5"},
 "encoding":{"x":{"field":"date","type":"temporal"},"y":{"field":"at","type":"quantitative"},"text":{"field":"label"}}},
{"data":{"values":[{"date":"2021-12-07T12:00:00Z","at":13491}]},
 "mark":{"type":"point","size":3400,"shape":"circle","filled":true,"fill":"#ffffff","stroke":"#e6e7ea","strokeWidth":1.5,"opacity":1},
 "encoding":{"x":{"field":"date","type":"temporal"},"y":{"field":"at","type":"quantitative"}}},
{"data":{"values":[{"date":"2021-12-07T12:00:00Z","at":13491}]},
 "mark":{"type":"point","size":4,"filled":true,"fill":"#131722","strokeWidth":0,"opacity":1,"shape":"M-21,-10 L-2,-10 L-2,12 L-11,12 L-11,-3 L-21,-3 Z M-0.5,-6 A3.5,3.5 0 1 1 6.5,-6 A3.5,3.5 0 1 1 -0.5,-6 Z M10,-10 L22,-10 L15,12 L3,12 Z"},
 "encoding":{"x":{"field":"date","type":"temporal"},"y":{"field":"at","type":"quantitative"}}},
{"data":{"values":[{"label":"2022","date":"2022-01-01","at":9009}]},
 "mark":{"type":"text","align":"center","baseline":"middle","fontSize":24,"fontWeight":"bold","color":"#131722"},
 "encoding":{"x":{"field":"date","type":"temporal"},"y":{"field":"at","type":"quantitative"},"text":{"field":"label"}}},
{"data":{"values":[{"label":"May","date":"2022-05-01","at":9009},{"label":"Eyl","date":"2022-09-01","at":9009}]},
 "mark":{"type":"text","align":"center","baseline":"middle","fontSize":23,"color":"#131722"},
 "encoding":{"x":{"field":"date","type":"temporal"},"y":{"field":"at","type":"quantitative"},"text":{"field":"label"}}},
{"data":{"values":[{"date":"2022-12-06T17:00:00Z","at":8947}]},
 "mark":{"type":"point","size":4,"filled":false,"stroke":"#131722","strokeWidth":1.8,"opacity":1,"shape":"M-11,0 A11,11 0 1 1 11,0 A11,11 0 1 1 -11,0 Z M0,-11 L0,-15 M0,11 L0,15 M-11,0 L-15,0 M11,0 L15,0 M-8,-8 L-10.5,-10.5 M8,-8 L10.5,-10.5 M-8,8 L-10.5,10.5 M8,8 L10.5,10.5"},
 "encoding":{"x":{"field":"date","type":"temporal"},"y":{"field":"at","type":"quantitative"}}}
]
}
